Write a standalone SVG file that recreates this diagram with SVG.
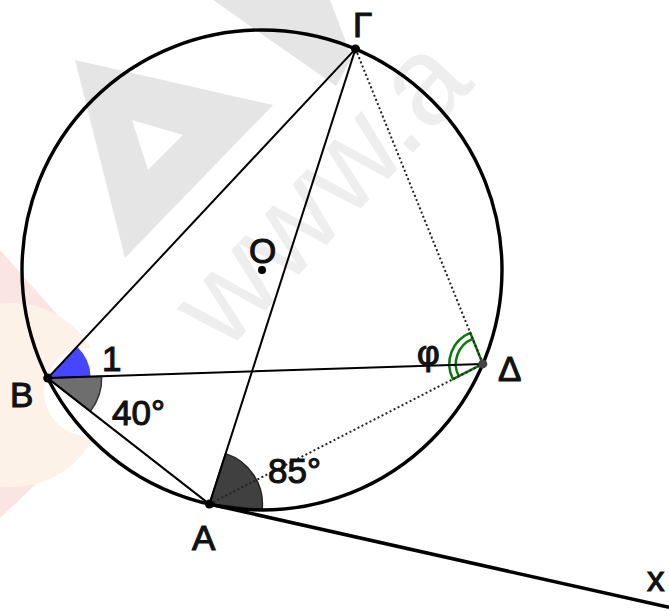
<svg xmlns="http://www.w3.org/2000/svg" width="669" height="611" viewBox="0 0 669 611">
  <style>
    .lbl { font-family: "Liberation Sans", Arial, sans-serif; font-size: 35px; fill: #111; stroke: #111; stroke-width: 1.1px; }
    .wm { fill: #e5e5e5; }
    .chord { stroke: #000; stroke-width: 2; fill: none; stroke-linecap: round; }
    .dot { stroke: #222; stroke-width: 2; fill: none; stroke-dasharray: 2 2.5; }
    .pt { fill: #000; }
  </style>
  <rect width="669" height="611" fill="#fff"/>

  <!-- watermark -->
  <g id="watermark">
    <polygon points="0,250 129,396 0,518" fill="#fbe5e3"/>
    <circle cx="12" cy="395" r="92" fill="#fdf2e8"/>
    <circle cx="88" cy="392" r="44" fill="#fff"/>
    <path class="wm" fill-rule="evenodd" d="M75,60 L273,105 L125,258 Z M132,120 L183,135 L148,170 Z"/>
    <polygon class="wm" points="213,0 330,0 352,58 336,86"/>
    <text x="225" y="354" transform="rotate(-47 225 354)" font-family="'Liberation Sans', Arial, sans-serif" font-size="125" fill="#eeeeee">www.a</text>
  </g>

  <!-- angle markers -->
  <g id="angles">
    <path d="M47.7,378.1 L77.07,346.69 A43,43 0 0,1 90.68,376.70 Z" fill="#4646ff"/>
    <path d="M47.7,378.1 L101.67,376.34 A54,54 0 0,1 90.30,411.29 Z" fill="#6e6e6e" stroke="#333" stroke-width="1.5"/>
    <path d="M209.4,504.1 L225.6,453.64 A53,53 0 0,1 262.11,509.64 Z" fill="#404040" stroke="#222" stroke-width="1.5"/>
    <path d="M482.8,363.9 L452.99,379.19 A33.5,33.5 0 0,1 470.25,332.84 Z" fill="none" stroke="#0a7a0a" stroke-width="2.5"/>
    <path d="M458.78,376.22 A27,27 0 0,1 472.69,338.87" fill="none" stroke="#0a7a0a" stroke-width="2.5"/>
  </g>

  <!-- connectors -->
  <g id="connectors">
    <circle cx="262" cy="270" r="240" fill="none" stroke="#000" stroke-width="3.4"/>
    <line class="chord" x1="47.7" y1="378.1" x2="355.5" y2="48.9"/>
    <line class="chord" x1="47.7" y1="378.1" x2="482.8" y2="363.9" stroke-width="1.6"/>
    <line class="chord" x1="47.7" y1="378.1" x2="209.4" y2="504.1"/>
    <line class="chord" x1="209.4" y1="504.1" x2="355.5" y2="48.9"/>
    <line class="dot" x1="355.5" y1="48.9" x2="482.8" y2="363.9"/>
    <line class="dot" x1="209.4" y1="504.1" x2="482.8" y2="363.9"/>
    <line x1="209.4" y1="504.1" x2="669" y2="607.4" stroke="#000" stroke-width="3.5"/>
  </g>

  <!-- points -->
  <g id="node-Gamma"><circle class="pt" cx="355.5" cy="48.9" r="4.5"/><text class="lbl" x="353" y="37">Γ</text></g>
  <g id="node-B"><circle class="pt" cx="47.7" cy="378.1" r="4.5"/><text class="lbl" x="10" y="407">B</text></g>
  <g id="node-A"><circle class="pt" cx="209.4" cy="504.1" r="4.5"/><text class="lbl" x="192" y="550">A</text></g>
  <g id="node-Delta"><circle cx="482.8" cy="363.9" r="4.5" fill="#444"/><text class="lbl" x="498" y="381">Δ</text></g>
  <g id="node-O"><circle class="pt" cx="262" cy="270" r="4"/><text class="lbl" x="249" y="263">O</text></g>
  <g id="node-x"><text class="lbl" x="647" y="591">x</text></g>

  <!-- angle labels -->
  <g id="angle-labels">
    <text class="lbl" x="102" y="371">1</text>
    <text class="lbl" x="112" y="425">40°</text>
    <text class="lbl" x="268" y="483">85°</text>
    <text class="lbl" x="417" y="365">φ</text>
  </g>
</svg>
